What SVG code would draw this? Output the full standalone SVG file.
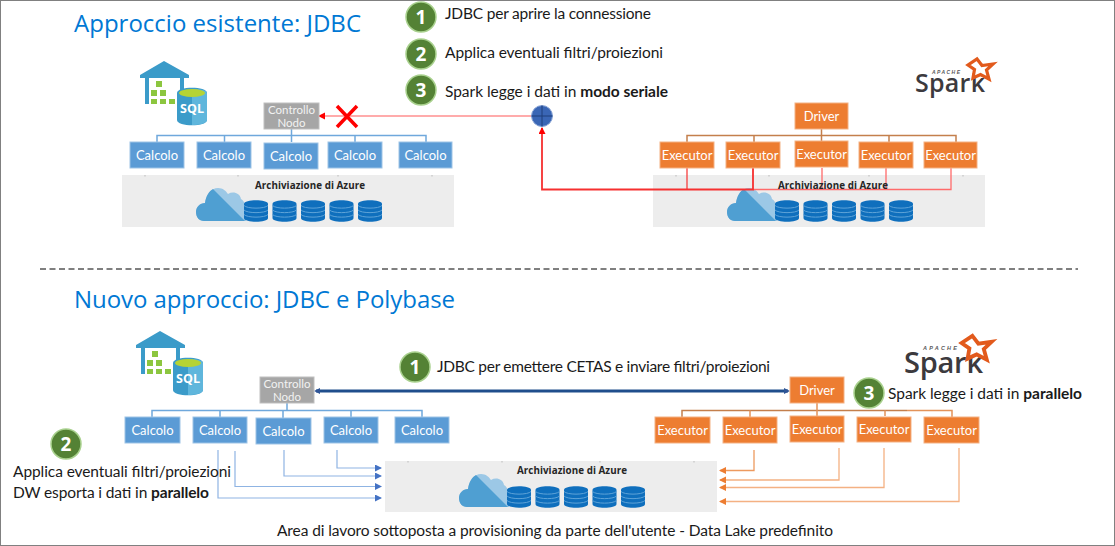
<svg xmlns="http://www.w3.org/2000/svg" width="1115" height="546" viewBox="0 0 1115 546">
<style>
text{font-family:"Lato","Open Sans","Liberation Sans",sans-serif}
.title{font-family:"Open Sans","Noto Sans",sans-serif;font-size:24px;fill:#0078d4}
.t{font-size:15.500px;fill:#1a1a1a}
.b{font-weight:700}
.step{fill:#548235;stroke:#a9d18e;stroke-width:1.500}
.num{font-family:"Open Sans",sans-serif;font-size:19px;font-weight:700;fill:#fff;text-anchor:middle}
.blue{fill:#5b9bd5;stroke:#9dc3e6;stroke-width:1}
.or{fill:#ed7d31;stroke:#f4b183;stroke-width:1}
.gray{fill:#a6a6a6;stroke:#bfbfbf;stroke-width:1}
.lb{font-size:13px;fill:#fff;text-anchor:middle}
.sm{font-size:11.500px;fill:#f2f2f2;text-anchor:middle}
.store{fill:#ededed}
.sl{font-family:"Open Sans",sans-serif;font-size:9.800px;font-weight:700;fill:#262626;text-anchor:middle}
.sq{font-family:"Open Sans",sans-serif;font-size:12.500px;font-weight:700;fill:#fff;text-anchor:middle}
.ap{font-family:"Liberation Sans",sans-serif;font-style:italic;font-weight:700;fill:#58585a}
.sp{font-family:"Open Sans",sans-serif;font-weight:600;fill:#3c3a3e}
.bus{fill:none;stroke:#6fa8dc;stroke-width:1.500}
.obus{fill:none;stroke:#c47f4c;stroke-width:1.500}
.nar{fill:none;stroke:#8fb4e3;stroke-width:1.200}
.oar{fill:none;stroke:#f4b183;stroke-width:1.300}
.tick{stroke:#bbb;stroke-width:1}
</style>
<defs>
<marker id="rh" markerUnits="userSpaceOnUse" markerWidth="8" markerHeight="8" refX="6" refY="3.500" orient="auto"><path d="M0 0L7 3.500L0 7Z" fill="#f00"/></marker>
<marker id="bh" markerUnits="userSpaceOnUse" markerWidth="8" markerHeight="8" refX="6" refY="3.500" orient="auto"><path d="M0 0L7 3.500L0 7Z" fill="#4472c4"/></marker>
<marker id="oh" markerUnits="userSpaceOnUse" markerWidth="8" markerHeight="8" refX="6" refY="3.500" orient="auto"><path d="M0 0L7 3.500L0 7Z" fill="#ed7d31"/></marker>
<marker id="dh" markerUnits="userSpaceOnUse" markerWidth="7" markerHeight="7" refX="4" refY="3" orient="auto-start-reverse"><path d="M0 0L6 3L0 6Z" fill="#2f5597"/></marker>
<g id="cloud"><path d="M8 33C3 33 0 29 0 24C0 19 4 15 9 15C10 7 15 0 22 0C27 0 30 3 32 6C37 3 44 5 45 11C49 13 50 18 50 33Z" fill="#9cc8e6"/><path d="M8 33C3 33 0 29 0 24C0 19 4 15 9 15C10 8 13 3 17 1L49 33Z" fill="#4f9fd2"/></g>
<g id="db"><path d="M0 4C0 -1 24 -1 24 4V18C24 23 0 23 0 18Z" fill="#0f6fbd"/><path d="M0 5.500C3 9 21 9 24 5.500M0 10C3 13.500 21 13.500 24 10M0 14.500C3 18 21 18 24 14.500" fill="none" stroke="#5ea3d8" stroke-width="1"/></g>
<g id="dbs"><use href="#cloud"/><use href="#db" x="48" y="12"/><use href="#db" x="76.500" y="12"/><use href="#db" x="105" y="12"/><use href="#db" x="133.500" y="12"/><use href="#db" x="162" y="12"/></g>
<g id="wh"><path d="M24 0L49 14V17H44V30H40V17H9V43H5V17H0V14Z" fill="#3b9bc9"/><g fill="#8cc63f"><rect x="16" y="20" width="6" height="6"/><rect x="11" y="29" width="6" height="6"/><rect x="20" y="29" width="6" height="6"/><rect x="11" y="38" width="6" height="5"/><rect x="20" y="38" width="6" height="5"/><rect x="29" y="38" width="6" height="5"/></g><path d="M37 32C37 25 67 25 67 32V59C67 66 37 66 37 59Z" fill="#3b9bc9"/><path d="M52 28C60 28 67 29 67 32V59C67 62 60 64 52 64Z" fill="#5fb6dc"/><ellipse cx="52" cy="32" rx="13" ry="4" fill="#b5d334"/></g>
<path id="star" d="M12 4L17 10.500L28 9L21.500 15L24 24L15.500 19.500L8 23L9.500 14.500L3 10Z" fill="#fff" stroke="#e25a1c" stroke-width="3.200" stroke-linejoin="miter"/>
</defs>
<rect width="1115" height="546" fill="#fff"/>
<rect x=".5" y=".5" width="1114" height="545" fill="none" stroke="#808080"/>
<text class="title" x="74" y="32" textLength="287">Approccio esistente: JDBC</text>
<text class="title" x="74" y="308" textLength="381">Nuovo approccio: JDBC e Polybase</text>
<line x1="40" y1="269" x2="1078" y2="269" stroke="#000" stroke-width="1" stroke-dasharray="6 3.500"/>

<g id="storage-top-left"><rect class="store" x="122" y="175" width="332" height="52"/><path class="tick" d="M145 175v1.500M238 175v1.500M338 175v1.500M432 175v1.500"/><text class="sl" x="310" y="189" textLength="110">Archiviazione di Azure</text><use href="#dbs" x="196" y="188"/></g>
<g id="storage-top-right"><rect class="store" x="653" y="175" width="332" height="52"/><path class="tick" d="M676 175v1.500M769 175v1.500M869 175v1.500M963 175v1.500"/><use href="#dbs" x="727" y="188"/></g>
<g id="storage-bottom"><rect class="store" x="385" y="461" width="332" height="51"/><path class="tick" d="M408 461v1.500M502 461v1.500M600 461v1.500M694 461v1.500"/><text class="sl" x="572" y="474" textLength="110">Archiviazione di Azure</text><use href="#dbs" x="459" y="474"/></g>

<g id="connectors">
<path class="bus" d="M157 142V135.500H426V142M224.500 135.500V142M291.500 129V142M355 135.500V142"/>
<path class="obus" d="M687 142V135.500H956V142M754 135.500V142M821.500 129V141M889 135.500V142"/>
<path d="M532 116H319" stroke="#ff8f8f" stroke-width="1.500" fill="none" marker-end="url(#rh)"/>
<path d="M753 189.500H951V168M886 168V189.500M822 168V189.500" fill="none" stroke="#ff6b6b" stroke-width="1.300"/>
<path d="M753 168V189.500H542V128" fill="none" stroke="#f63030" stroke-width="1.800" marker-end="url(#rh)"/>
<path d="M687 168V189.500" fill="none" stroke="#f63030" stroke-width="1.200"/>
<path class="bus" d="M152 417V410.500H422V417M220 410.500V417M283 410.500V418M351 410.500V417M287 403V410.500"/>
<path class="obus" d="M682 417V410.500H907" stroke="#d9824a"/>
<path d="M907 410.500H952V417M885 410.500V416M817 403V416M750 410.500V417" fill="none" stroke="#e3935a" stroke-width="1.500"/>
<path d="M316 391H788" stroke="#1f4e8c" stroke-width="3" fill="none" marker-start="url(#dh)" marker-end="url(#dh)"/>
<path class="nar" d="M218 450V498H381" marker-end="url(#bh)"/>
<path class="nar" d="M235 451V486.500H381" marker-end="url(#bh)"/>
<path class="nar" d="M284 450V476H381" marker-end="url(#bh)"/>
<path class="nar" d="M337 450V468H381" marker-end="url(#bh)"/>
<path d="M754 450V470.500H720" fill="none" stroke="#ed9a5f" stroke-width="1.300" marker-end="url(#oh)"/>
<path class="oar" d="M839 448V480H720" marker-end="url(#oh)"/>
<path class="oar" d="M884 448V487.500H720" marker-end="url(#oh)"/>
<path class="oar" d="M959 448V501.500H720" marker-end="url(#oh)"/>
</g>

<text class="sl" x="833" y="189" textLength="110">Archiviazione di Azure</text>

<g id="x-mark"><path d="M337 106L357 127M357 106L337 127" stroke="#f00" stroke-width="3.500" fill="none"/></g>
<g id="junction"><circle cx="542" cy="116" r="10.500" fill="#3a66b5" stroke="#8fa9d8"/><path d="M531.500 116H552.500M542 105.500V126.500" stroke="#1f3f7a" stroke-width="1"/></g>

<g id="sql-top"><use href="#wh" x="140" y="61"/><text class="sq" x="192" y="113">SQL</text></g>
<g id="sql-bottom"><use href="#wh" x="136" y="331"/><text class="sq" x="188" y="383">SQL</text></g>

<g id="spark-top"><text class="sp" x="915" y="92" font-size="25" textLength="70">Spark</text><text class="ap" x="932" y="74" font-size="5" textLength="28">APACHE</text><use href="#star" x="965" y="55"/></g>
<g id="spark-bottom"><text class="sp" x="904" y="373" font-size="29" textLength="79">Spark</text><text class="ap" x="923" y="350" font-size="5.500" textLength="34">APACHE</text><use href="#star" transform="translate(958 331) scale(1.200)"/></g>

<g id="step-1-top"><circle class="step" cx="421" cy="17" r="15"/><text class="num" x="421" y="24">1</text><text class="t" x="445" y="19" textLength="206">JDBC per aprire la connessione</text></g>
<g id="step-2-top"><circle class="step" cx="421" cy="54" r="15"/><text class="num" x="421" y="61">2</text><text class="t" x="445" y="58" textLength="218">Applica eventuali filtri/proiezioni</text></g>
<g id="step-3-top"><circle class="step" cx="421" cy="90" r="15"/><text class="num" x="421" y="97">3</text><text class="t" x="445" y="97" textLength="223">Spark legge i dati in <tspan class="b">modo seriale</tspan></text></g>

<g id="controllo-top"><rect class="gray" x="264" y="103" width="55" height="26"/><text class="sm" x="291.500" y="113.500">Controllo</text><text class="sm" x="291.500" y="127">Nodo</text></g>
<g id="calcolo-t1"><rect class="blue" x="130" y="142" width="54" height="26"/><text class="lb" x="157" y="160">Calcolo</text></g>
<g id="calcolo-t2"><rect class="blue" x="197" y="142" width="54" height="26"/><text class="lb" x="224" y="160">Calcolo</text></g>
<g id="calcolo-t3"><rect class="blue" x="264" y="143" width="54" height="26"/><text class="lb" x="291" y="160.500">Calcolo</text></g>
<g id="calcolo-t4"><rect class="blue" x="328" y="142" width="54" height="26"/><text class="lb" x="355" y="160">Calcolo</text></g>
<g id="calcolo-t5"><rect class="blue" x="399" y="142" width="53" height="26"/><text class="lb" x="425.500" y="160">Calcolo</text></g>

<g id="driver-top"><rect class="or" x="795" y="103" width="53" height="26"/><text class="lb" x="821.500" y="121">Driver</text></g>
<g id="exec-t1"><rect class="or" x="660" y="142" width="54" height="26"/><text class="lb" x="687" y="160">Executor</text></g>
<g id="exec-t2"><rect class="or" x="726" y="142" width="54" height="26"/><text class="lb" x="753" y="160">Executor</text></g>
<g id="exec-t3"><rect class="or" x="795" y="141" width="53" height="26"/><text class="lb" x="821.500" y="159">Executor</text></g>
<g id="exec-t4"><rect class="or" x="859" y="142" width="54" height="26"/><text class="lb" x="886" y="160">Executor</text></g>
<g id="exec-t5"><rect class="or" x="924" y="142" width="53" height="26"/><text class="lb" x="950.500" y="160">Executor</text></g>

<g id="step-1-bottom"><circle class="step" cx="415" cy="367" r="15"/><text class="num" x="415" y="374">1</text><text class="t" x="437" y="372" textLength="333">JDBC per emettere CETAS e inviare filtri/proiezioni</text></g>
<g id="controllo-bottom"><rect class="gray" x="260" y="377" width="54" height="26"/><text class="sm" x="287" y="387.500">Controllo</text><text class="sm" x="287" y="401">Nodo</text></g>
<g id="calcolo-b1"><rect class="blue" x="125" y="417" width="55" height="26"/><text class="lb" x="152.500" y="435">Calcolo</text></g>
<g id="calcolo-b2"><rect class="blue" x="193" y="417" width="54" height="26"/><text class="lb" x="220" y="434.500">Calcolo</text></g>
<g id="calcolo-b3"><rect class="blue" x="256" y="418" width="55" height="26"/><text class="lb" x="283.500" y="435.500">Calcolo</text></g>
<g id="calcolo-b4"><rect class="blue" x="324" y="417" width="54" height="26"/><text class="lb" x="351" y="434.500">Calcolo</text></g>
<g id="calcolo-b5"><rect class="blue" x="395" y="417" width="54" height="26"/><text class="lb" x="422" y="434.500">Calcolo</text></g>
<g id="step-2-bottom"><circle class="step" cx="66" cy="444" r="15"/><text class="num" x="66" y="451">2</text><text class="t" x="13" y="477" textLength="218">Applica eventuali filtri/proiezioni</text><text class="t" x="13" y="498" textLength="196">DW esporta i dati in <tspan class="b">parallelo</tspan></text></g>

<g id="driver-bottom"><rect class="or" x="790" y="377" width="54" height="26"/><text class="lb" x="817" y="395">Driver</text></g>
<g id="exec-b1"><rect class="or" x="655" y="417" width="55" height="26"/><text class="lb" x="682.500" y="435">Executor</text></g>
<g id="exec-b2"><rect class="or" x="723" y="417" width="54" height="26"/><text class="lb" x="750" y="435">Executor</text></g>
<g id="exec-b3"><rect class="or" x="790" y="416" width="54" height="26"/><text class="lb" x="817" y="434">Executor</text></g>
<g id="exec-b4"><rect class="or" x="857" y="417" width="54" height="25"/><text class="lb" x="884" y="434">Executor</text></g>
<g id="exec-b5"><rect class="or" x="924" y="417" width="55" height="26"/><text class="lb" x="951.500" y="435">Executor</text></g>
<g id="step-3-bottom"><circle class="step" cx="869" cy="393" r="15"/><text class="num" x="869" y="400">3</text><text class="t" x="888" y="399" textLength="194">Spark legge i dati in <tspan class="b">parallelo</tspan></text></g>

<text class="t" x="277" y="536" textLength="556">Area di lavoro sottoposta a provisioning da parte dell'utente - Data Lake predefinito</text>
</svg>
